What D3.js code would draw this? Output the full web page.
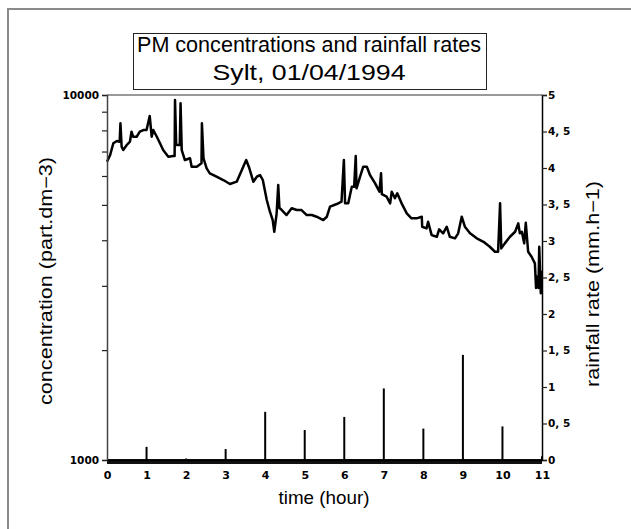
<!DOCTYPE html>
<html>
<head>
<meta charset="utf-8">
<script src="https://cdn.jsdelivr.net/npm/d3@7/dist/d3.min.js"></script>
<style>
  html, body { margin: 0; padding: 0; background: #ffffff; }
  svg { display: block; }
</style>
</head>
<body>
<svg id="chart" width="631" height="529"></svg>
<script>
// ---------- data ----------
const titleLines = ["PM concentrations and rainfall rates", "Sylt,  01/04/1994"];
const xLabel = "time (hour)";
const yLabelLeft = "concentration  (part.dm\u22123)";
const yLabelRight = "rainfall rate  (mm.h\u22121)";

const hourTicks = [0,1,2,3,4,5,6,7,8,9,10,11];
const concTicks = [1000,2000,3000,4000,5000,6000,7000,8000,9000,10000];
const concTickLabels = ["1000","","","","","","","","","10000"];
const rainTicks = [0,0.5,1,1.5,2,2.5,3,3.5,4,4.5,5];
const rainTickLabels = ["0","0, 5","1","1, 5","2","2, 5","3","3, 5","4","4, 5","5"];

// rainfall rate (mm/h) at each hour
const rainHours = [1,2,3,4,5,6,7,8,9,10,11];
const rainRates = [0.18,0.02,0.15,0.66,0.41,0.59,0.98,0.43,1.44,0.46,0.05];

// PM concentration time series: time (hour), concentration (part/dm3)
const concTime = [
  0.00,0.08,0.16,0.25,0.32,0.34,0.37,0.41,0.50,0.58,0.62,0.66,0.75,0.83,0.92,1.00,
  1.08,1.13,1.17,1.26,1.34,1.42,1.55,1.68,1.71,1.72,1.75,1.80,1.84,1.86,1.89,1.97,
  2.10,2.14,2.27,2.39,2.40,2.44,2.52,2.60,2.77,2.94,3.11,3.28,3.41,3.52,3.60,3.70,
  3.79,3.87,3.94,4.04,4.12,4.19,4.23,4.29,4.33,4.36,4.42,4.54,4.67,4.80,4.92,5.05,
  5.18,5.30,5.47,5.56,5.64,5.81,5.93,5.99,6.02,6.10,6.19,6.25,6.29,6.31,6.40,6.48,
  6.57,6.65,6.78,6.89,6.93,6.95,7.07,7.16,7.20,7.28,7.34,7.45,7.58,7.70,7.83,7.96,
  7.97,8.08,8.12,8.21,8.34,8.40,8.50,8.59,8.67,8.80,8.88,8.97,9.05,9.18,9.35,9.52,
  9.68,9.81,9.89,9.94,9.97,10.06,10.19,10.32,10.40,10.44,10.49,10.55,10.59,10.65,10.74,10.82,
  10.85,10.87,10.91,10.93,10.97,10.99
];
const concValues = [
  6565,6849,7374,7482,7449,8366,7217,7067,7295,7449,7933,7686,7686,7933,8017,8017,
  8760,7686,8017,7686,7374,7067,6776,6806,6806,9690,7295,7295,7295,9490,7067,6635,
  6708,6361,6361,6500,8366,6700,6297,6102,5973,5849,5704,5788,6230,6635,6297,5788,
  5973,6036,5849,5156,4789,4544,4220,4741,5668,4900,4840,4690,4893,4840,4840,4690,
  4690,4640,4544,4640,4943,5027,5101,6635,5049,5049,5608,5608,6806,5550,5973,6361,
  6361,6036,5729,5434,6102,5350,5265,5049,5434,5212,5379,5049,4741,4593,4593,4640,
  4356,4312,4496,4133,4089,4285,4178,4356,4089,4048,4178,4640,4356,4178,4048,3962,
  3839,3720,3720,5049,3800,3922,4089,4220,4450,4178,4220,3922,4467,3720,3600,3457,
  2959,3178,2959,3839,2862,3300
];

// ---------- drawing ----------
const svg = d3.select("#chart");
const plot = { left: 107, right: 542, top: 95, bottom: 460 };

const x = d3.scaleLinear().domain([0, 11]).range([plot.left, plot.right]);
const y = d3.scaleLog().domain([1000, 10000]).range([plot.bottom, plot.top]);
const yR = d3.scaleLinear().domain([0, 5]).range([plot.bottom, plot.top]);

// outer frame
svg.append("rect")
  .attr("x", 8).attr("y", 9).attr("width", 640).attr("height", 540)
  .attr("fill", "none").attr("stroke", "#8a8a8a").attr("stroke-width", 2);

// title box
const tb = svg.append("g");
tb.append("rect")
  .attr("x", 133.5).attr("y", 33.5).attr("width", 353).attr("height", 56)
  .attr("fill", "#fff").attr("stroke", "#222").attr("stroke-width", 1);
tb.append("text")
  .attr("x", 309).attr("y", 52).attr("text-anchor", "middle")
  .attr("font-family", "Liberation Sans, Arial, sans-serif").attr("font-size", 22)
  .attr("textLength", 344).attr("lengthAdjust", "spacingAndGlyphs")
  .attr("fill", "#000").text(titleLines[0]);
tb.append("text")
  .attr("x", 309).attr("y", 80).attr("text-anchor", "middle")
  .attr("font-family", "Liberation Sans, Arial, sans-serif").attr("font-size", 22)
  .attr("textLength", 193).attr("lengthAdjust", "spacingAndGlyphs")
  .attr("fill", "#000").text(titleLines[1]);

// plot top border
svg.append("line")
  .attr("x1", plot.left).attr("x2", plot.right)
  .attr("y1", plot.top).attr("y2", plot.top)
  .attr("stroke", "#777").attr("stroke-width", 1.5);

// rainfall zero band along the time axis
svg.append("rect")
  .attr("x", x(0)).attr("y", yR(0) - 1)
  .attr("width", x(11) - x(0)).attr("height", 5)
  .attr("fill", "#111");

// rainfall bars
svg.append("g").selectAll("line")
  .data(rainHours.map((h, i) => ({ h, r: rainRates[i] })))
  .join("line")
  .attr("x1", d => x(d.h)).attr("x2", d => x(d.h))
  .attr("y1", yR(0)).attr("y2", d => yR(d.r))
  .attr("stroke", "#000").attr("stroke-width", 2);

// concentration line
const concData = concTime.map((t, i) => [t, concValues[i]]);
svg.append("path")
  .datum(concData)
  .attr("fill", "none").attr("stroke", "#000").attr("stroke-width", 2.5)
  .attr("stroke-linejoin", "round")
  .attr("d", d3.line().x(d => x(d[0])).y(d => y(d[1])));

const tickFont = "DejaVu Sans, sans-serif";

// left axis
const gL = svg.append("g").attr("transform", `translate(${plot.left},0)`)
  .call(d3.axisLeft(y).tickValues(concTicks)
    .tickFormat((d, i) => concTickLabels[i]).tickSize(5).tickPadding(3));
gL.select(".domain").attr("stroke", "#444").attr("stroke-width", 1.5);
gL.selectAll(".tick line").attr("stroke", "#222").attr("stroke-width", 1.2);
gL.selectAll(".tick text").attr("font-family", tickFont).attr("font-weight", "bold")
  .attr("font-size", 10.5).attr("fill", "#000");

// right axis
const gR = svg.append("g").attr("transform", `translate(${plot.right},0)`)
  .call(d3.axisRight(yR).tickValues(rainTicks)
    .tickFormat((d, i) => rainTickLabels[i]).tickSize(5).tickPadding(1));
gR.select(".domain").attr("stroke", "#000").attr("stroke-width", 1.5);
gR.selectAll(".tick line").attr("stroke", "#222").attr("stroke-width", 1.2);
gR.selectAll(".tick text").attr("font-family", tickFont).attr("font-weight", "bold")
  .attr("font-size", 10.5).attr("fill", "#000");

// bottom axis
const gB = svg.append("g").attr("transform", `translate(0,${plot.bottom})`)
  .call(d3.axisBottom(x).tickValues(hourTicks).tickSize(0).tickPadding(11));
gB.select(".domain").attr("stroke", "#000").attr("stroke-width", 1.5);
gB.selectAll(".tick text").attr("font-family", tickFont).attr("font-weight", "bold")
  .attr("font-size", 11).attr("fill", "#000");

// axis titles
const labFont = "Liberation Sans, Arial, sans-serif";
svg.append("text")
  .attr("x", 324).attr("y", 504).attr("text-anchor", "middle")
  .attr("font-family", labFont).attr("font-size", 19)
  .attr("textLength", 91).attr("lengthAdjust", "spacingAndGlyphs")
  .text(xLabel);
svg.append("text")
  .attr("transform", "translate(52,281) rotate(-90)")
  .attr("text-anchor", "middle")
  .attr("font-family", labFont).attr("font-size", 18)
  .attr("textLength", 248).attr("lengthAdjust", "spacingAndGlyphs")
  .text(yLabelLeft);
svg.append("text")
  .attr("transform", "translate(599,284) rotate(-90)")
  .attr("text-anchor", "middle")
  .attr("font-family", labFont).attr("font-size", 18)
  .attr("textLength", 206).attr("lengthAdjust", "spacingAndGlyphs")
  .text(yLabelRight);
</script>
</body>
</html>
